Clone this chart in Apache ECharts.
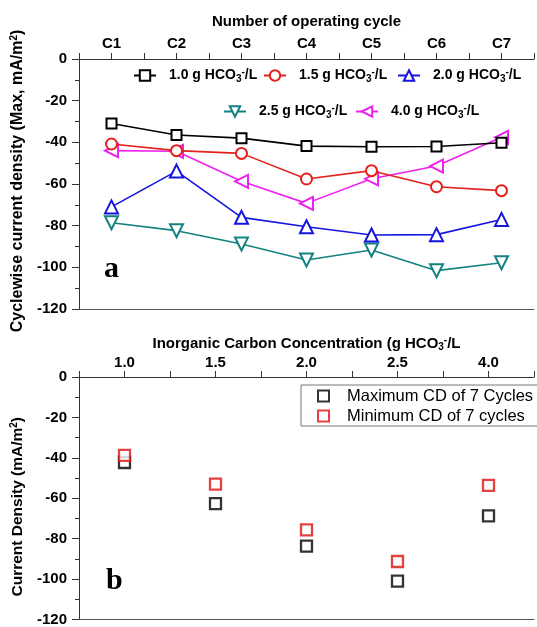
<!DOCTYPE html>
<html>
<head>
<meta charset="utf-8">
<script src="https://cdn.jsdelivr.net/npm/echarts@6/dist/echarts.min.js"></script>
<style>
  html, body { margin: 0; padding: 0; background: #fff; }
  #chart { width: 537px; height: 627px; }
</style>
</head>
<body>
<div id="chart"></div>
<script>
// 数据
const cycles = ['C1', 'C2', 'C3', 'C4', 'C5', 'C6', 'C7'];
const concentrations = ['1.0', '1.5', '2.0', '2.5', '4.0'];
const cd10 = [-31, -36.5, -38, -41.8, -42.1, -42, -40.2];
const cd15 = [-40.8, -44, -45.3, -57.6, -53.6, -61.3, -63.2];
const cd20 = [-71, -53.8, -76, -80.5, -84.5, -84.3, -77];
const cd25 = [-78.6, -82.4, -88.8, -96.5, -91.7, -101.6, -97.8];
const cd40 = [-44, -44.3, -58.7, -69.3, -57.5, -51.4, -37.6];
const maxCD = [-42.3, -62.7, -83.7, -101, -68.7];
const minCD = [-38.8, -53, -75.6, -91.3, -53.6];

const FONT = 'Liberation Sans, Arial, sans-serif';
const AXIS_COLOR = '#333';

const rich = {
    sub: { fontSize: 10, fontWeight: 'bold', fontFamily: FONT, padding: [7, 0, 0, 0] },
    sup: { fontSize: 10, fontWeight: 'bold', fontFamily: FONT, padding: [0, 0, 7, 0] }
};

const chart = echarts.init(document.getElementById('chart'));

// 顶部图的折线样式
const lineDefs = [
    { values: cd10, color: '#000000', symbol: 'emptyRect', size: 10, rotate: 0 },
    { values: cd15, color: '#e4211c', symbol: 'emptyCircle', size: 11, rotate: 0 },
    { values: cd20, color: '#1515dd', symbol: 'emptyTriangle', size: 13, rotate: 0 },
    { values: cd25, color: '#128380', symbol: 'emptyTriangle', size: 13, rotate: 180 },
    { values: cd40, color: '#ee22ee', symbol: 'emptyTriangle', size: 13, rotate: 90 }
];

const lineSeries = lineDefs.map((d, k) => ({
    name: concentrations[k],
    type: 'line',
    xAxisIndex: 0,
    yAxisIndex: 0,
    data: d.values.map((v, i) => [i + 1, v]),
    symbol: d.symbol,
    symbolSize: d.size,
    symbolRotate: d.rotate,
    itemStyle: { color: d.color, borderWidth: 1.8 },
    lineStyle: { color: d.color, width: 1.6 },
    z: 5 - k
}));

// 五个图例分别定位
const legendPos = [[133, 67], [263, 67], [397, 67], [223, 103], [355, 103]];
const lineLegends = legendPos.map((p, k) => ({
    data: [concentrations[k]],
    left: p[0],
    top: p[1],
    padding: 0,
    itemWidth: 22,
    itemHeight: 13,
    formatter: name => `${name} g HCO{sub|3}{sup|-}/L`,
    textStyle: { fontSize: 14, fontWeight: 'bold', fontFamily: FONT, color: '#000', padding: [0, 0, 0, 8], rich: rich }
}));

function valueAxisX(grid, pos, max, labels, name, nameGap, margin, fontSize) {
    return {
        type: 'value',
        gridIndex: grid,
        position: pos,
        min: 0.5,
        max: max,
        interval: 0.5,
        name: name,
        nameLocation: 'middle',
        nameGap: nameGap,
        nameTextStyle: { fontSize: 15, fontWeight: 'bold', fontFamily: FONT, color: '#000', rich: rich },
        axisLine: { show: true, lineStyle: { color: AXIS_COLOR, width: 1 } },
        axisTick: { show: true, length: 6, lineStyle: { color: AXIS_COLOR } },
        axisLabel: {
            show: true,
            margin: margin,
            fontSize: fontSize,
            fontWeight: 'bold',
            fontFamily: FONT,
            color: '#000',
            formatter: v => Number.isInteger(v) ? labels[v - 1] : ''
        },
        splitLine: { show: false }
    };
}

function bottomLine(grid, max) {
    return {
        type: 'value', gridIndex: grid, position: 'bottom', min: 0.5, max: max,
        axisLine: { show: true, onZero: false, lineStyle: { color: '#555', width: 1 } },
        axisTick: { show: false }, axisLabel: { show: false }, splitLine: { show: false }
    };
}

function valueAxisY(grid, name, nameGap, namePad, nameSize) {
    return {
        type: 'value',
        gridIndex: grid,
        min: -120,
        max: 0,
        interval: 20,
        name: name,
        nameLocation: 'middle',
        nameGap: nameGap,
        nameRotate: 90,
        nameTextStyle: { fontSize: nameSize, fontWeight: 'bold', fontFamily: FONT, color: '#000', padding: namePad, rich: rich },
        axisLine: { show: true, lineStyle: { color: AXIS_COLOR, width: 1 } },
        axisTick: { show: true, length: 7, lineStyle: { color: AXIS_COLOR } },
        minorTick: { show: true, splitNumber: 2, length: 4, lineStyle: { color: AXIS_COLOR } },
        axisLabel: { margin: 12, fontSize: 15, fontWeight: 'bold', fontFamily: FONT, color: '#000' },
        splitLine: { show: false },
        minorSplitLine: { show: false }
    };
}

const option = {
    backgroundColor: '#fff',
    animation: false,
    grid: [
        { left: 79, right: 0, top: 59, height: 250 },
        { left: 79, right: 0, top: 377, height: 247 }
    ],
    xAxis: [
        valueAxisX(0, 'top', 7.5, cycles, 'Number of operating cycle', 30, 8, 15),
        bottomLine(0, 7.5),
        valueAxisX(1, 'top', 5.5, concentrations, 'Inorganic Carbon Concentration (g HCO{sub|3}{sup|-}/L', 25, 7, 15),
        bottomLine(1, 5.5)
    ],
    yAxis: [
        valueAxisY(0, 'Cyclewise current density (Max, mA/m{sup|2})', 45, [0, 0, 0, 6], 16),
        valueAxisY(1, 'Current Density (mA/m{sup|2})', 51, [0, 17, 0, 0], 15.5)
    ],
    legend: lineLegends.concat([{
        data: ['Maximum CD of 7 Cycles', 'Minimum CD of 7 cycles'],
        orient: 'vertical',
        left: 301,
        top: 385,
        padding: [2, 12, 1, 16],
        itemGap: 2,
        itemWidth: 11,
        itemHeight: 11,
        borderColor: '#777',
        borderWidth: 1,
        borderRadius: 0,
        textStyle: { fontSize: 16.5, fontFamily: FONT, color: '#000', lineHeight: 18, padding: [0, 0, 0, 13] }
    }]),
    series: lineSeries.concat([
        {
            name: 'Maximum CD of 7 Cycles',
            type: 'scatter',
            xAxisIndex: 2,
            yAxisIndex: 1,
            data: maxCD.map((v, i) => [i + 1, v]),
            symbol: 'rect',
            symbolSize: 11,
            itemStyle: { color: '#fff', borderColor: '#000', borderWidth: 2.3 }
        },
        {
            name: 'Minimum CD of 7 cycles',
            type: 'scatter',
            xAxisIndex: 2,
            yAxisIndex: 1,
            data: minCD.map((v, i) => [i + 1, v]),
            symbol: 'rect',
            symbolSize: 11,
            itemStyle: { color: '#fff', borderColor: '#dd1111', borderWidth: 2.3 }
        }
    ]),
    graphic: [
        { type: 'text', x: 104, y: 269, style: { text: 'a', font: 'bold 30px "Liberation Serif", "Times New Roman", serif', fill: '#000', verticalAlign: 'middle' } },
        { type: 'text', x: 106, y: 581, style: { text: 'b', font: 'bold 30px "Liberation Serif", "Times New Roman", serif', fill: '#000', verticalAlign: 'middle' } }
    ]
};

chart.setOption(option);
</script>
</body>
</html>
